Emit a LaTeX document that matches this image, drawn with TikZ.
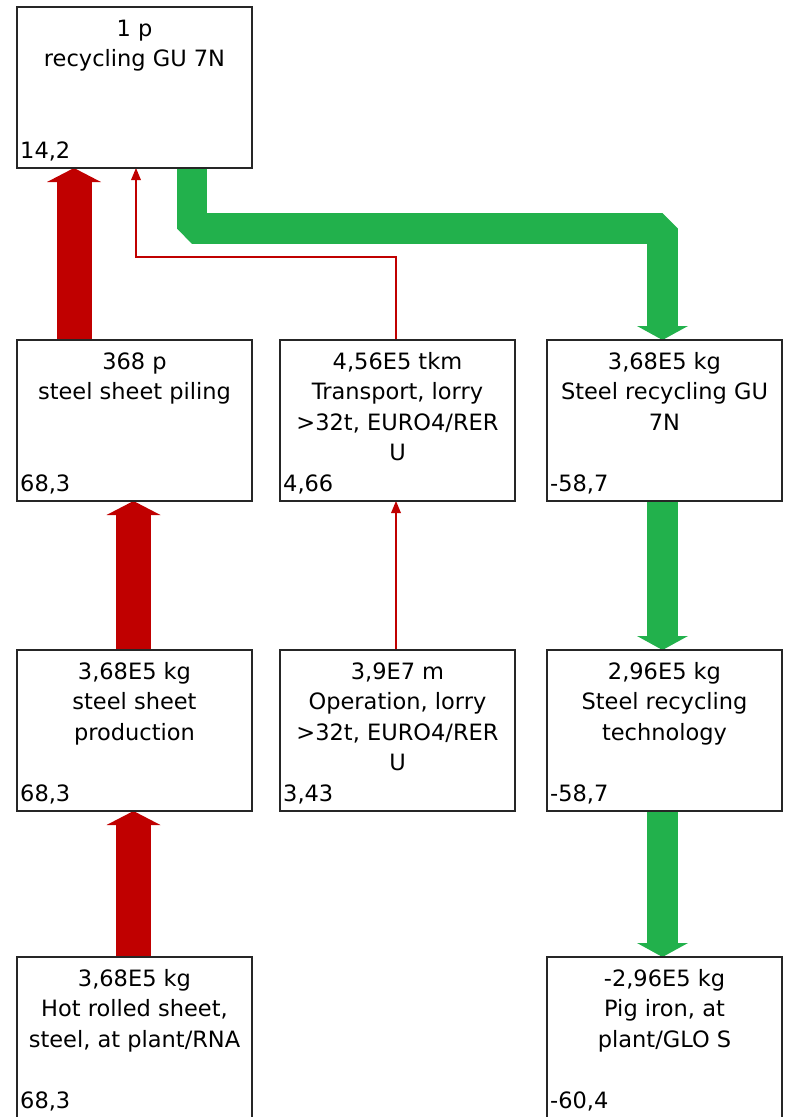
\documentclass[tikz,border=0pt]{standalone}
\usepackage{fontspec}
\setmainfont{DejaVu Sans}
\usetikzlibrary{calc,arrows.meta,backgrounds}
\definecolor{flowred}{HTML}{C00000}
\definecolor{flowgreen}{HTML}{22B14C}
\begin{document}
\begin{tikzpicture}[x=1pt,y=-1pt,
  box/.style={draw=black!85, line width=1.6pt, fill=white, minimum width=235pt, minimum height=161pt, inner sep=0pt, outer sep=0pt, anchor=north west},
  title/.style={anchor=north, inner sep=0pt, align=center, font=\fontsize{22.5}{30.5}\selectfont},
  value/.style={anchor=base west, inner sep=0pt, font=\fontsize{22.5}{30.5}\selectfont},
  redflow/.style={draw=flowred, line width=35pt, -{Triangle[width=54pt,length=14pt,line width=0pt]}},
  greenflow/.style={draw=flowgreen, line width=30.5pt, line join=bevel, -{Triangle[width=51pt,length=14pt,line width=0pt]}},
  thinflow/.style={draw=flowred, line width=1.6pt, -{Triangle[width=10pt,length=12pt,line width=0pt]}},
]
\useasboundingbox (0,0) rectangle (787,1117);

\node[box] (n1) at (17,7) {};
\node[box] (n2) at (17,340) {};
\node[box] (n3) at (280,340) {};
\node[box] (n4) at (547,340) {};
\node[box] (n5) at (17,650) {};
\node[box] (n6) at (280,650) {};
\node[box] (n7) at (547,650) {};
\node[box] (n8) at (17,957) {};
\node[box] (n9) at (547,957) {};

\node[title] (n1t) at ($(n1.north)+(0,7.65)$) {\strut 1 p\\recycling GU 7N};
\node[title] (n2t) at ($(n2.north)+(0,7.65)$) {\strut 368 p\\steel sheet piling};
\node[title] (n3t) at ($(n3.north)+(0,7.65)$) {\strut 4,56E5 tkm\\Transport, lorry\\>32t, EURO4/RER\\U};
\node[title] (n4t) at ($(n4.north)+(0,7.65)$) {\strut 3,68E5 kg\\Steel recycling GU\\7N};
\node[title] (n5t) at ($(n5.north)+(0,7.65)$) {\strut 3,68E5 kg\\steel sheet\\production};
\node[title] (n6t) at ($(n6.north)+(0,7.65)$) {\strut 3,9E7 m\\Operation, lorry\\>32t, EURO4/RER\\U};
\node[title] (n7t) at ($(n7.north)+(0,7.65)$) {\strut 2,96E5 kg\\Steel recycling\\technology};
\node[title] (n8t) at ($(n8.north)+(0,7.65)$) {\strut 3,68E5 kg\\Hot rolled sheet,\\steel, at plant/RNA};
\node[title] (n9t) at ($(n9.north)+(0,7.65)$) {\strut -2,96E5 kg\\Pig iron, at\\plant/GLO S};

\node[value] (n1v) at ($(n1.south west)+(3,-10)$) {14,2};
\node[value] (n2v) at ($(n2.south west)+(3,-10)$) {68,3};
\node[value] (n3v) at ($(n3.south west)+(3,-10)$) {4,66};
\node[value] (n4v) at ($(n4.south west)+(3,-10)$) {-58,7};
\node[value] (n5v) at ($(n5.south west)+(3,-10)$) {68,3};
\node[value] (n6v) at ($(n6.south west)+(3,-10)$) {3,43};
\node[value] (n7v) at ($(n7.south west)+(3,-10)$) {-58,7};
\node[value] (n8v) at ($(n8.south west)+(3,-10)$) {68,3};
\node[value] (n9v) at ($(n9.south west)+(3,-10)$) {-60,4};

\begin{scope}[on background layer]
\draw[redflow] ($(n2.north west)+(57,0)$) -- ($(n1.south west)+(57,0)$);
\draw[redflow] ($(n5.north west)+(116.5,0)$) -- ($(n2.south west)+(116.5,0)$);
\draw[redflow] ($(n8.north west)+(116.5,0)$) -- ($(n5.south west)+(116.5,0)$);
\draw[thinflow] ($(n3.north west)+(116,0)$) -- ++(0,-83) -| ($(n1.south west)+(119,0)$);
\draw[thinflow] ($(n6.north west)+(116,0)$) -- ($(n3.south west)+(116,0)$);
\draw[greenflow] ($(n1.south west)+(175,0)$) -- ++(0,60.5) -| ($(n4.north west)+(115.5,0)$);
\draw[greenflow] ($(n4.south west)+(115.5,0)$) -- ($(n7.north west)+(115.5,0)$);
\draw[greenflow] ($(n7.south west)+(115.5,0)$) -- ($(n9.north west)+(115.5,0)$);
\end{scope}
\end{tikzpicture}
\end{document}
